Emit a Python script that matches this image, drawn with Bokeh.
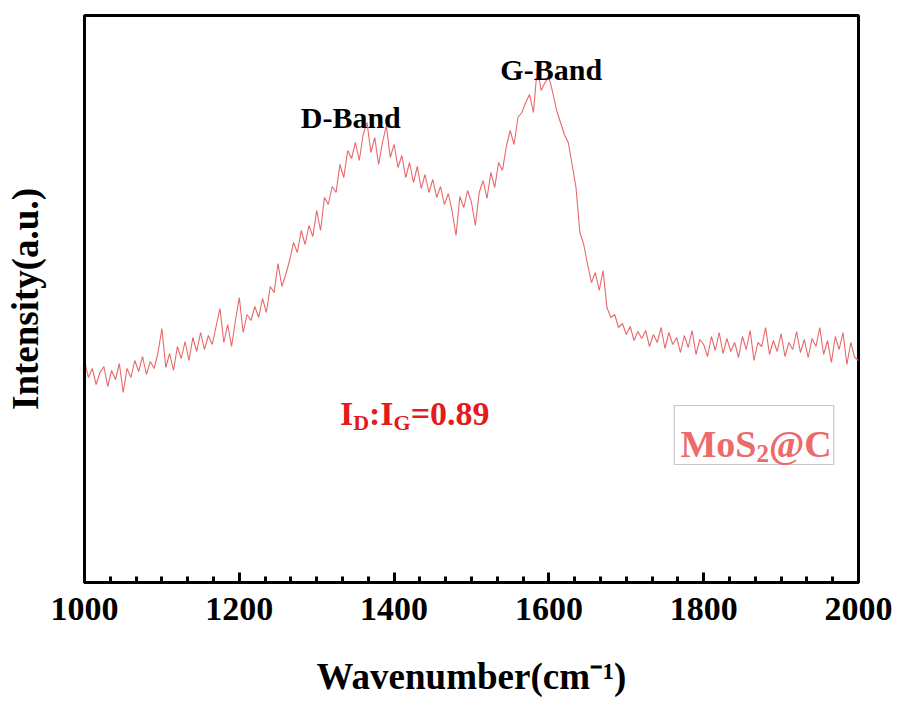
from bokeh.plotting import figure
from bokeh.models import Range1d, FixedTicker, Label, BoxAnnotation
from bokeh.embed import file_html
from bokeh.resources import INLINE

# ---------------- data ----------------
wavenumber = list(range(1000, 2001, 5))
intensity = [
    222, 205, 214, 198, 210,   # 1000
    216, 196, 212, 203, 219,   # 1025
    190, 214, 205, 222, 211,   # 1050
    226, 208, 221, 214, 230,   # 1075
    254, 215, 229, 212, 236,   # 1100
    224, 241, 222, 245, 231,   # 1125
    250, 233, 247, 238, 256,   # 1150
    274, 240, 258, 236, 262,   # 1175
    285, 250, 268, 262, 276,   # 1200
    265, 284, 270, 296, 290,   # 1225
    319, 296, 308, 322, 340,   # 1250
    330, 352, 338, 357, 346,   # 1275
    372, 352, 385, 378, 396,   # 1300
    390, 418, 405, 432, 424,   # 1325
    440, 422, 448, 460, 430,   # 1350
    445, 418, 440, 457, 425,   # 1375
    438, 415, 427, 405, 420,   # 1400
    400, 416, 394, 408, 390,   # 1425
    403, 385, 396, 378, 389,   # 1450
    371, 347, 386, 375, 392,   # 1475
    380, 357, 390, 402, 384,   # 1500
    410, 395, 420, 412, 436,   # 1525
    452, 438, 465, 470, 480,   # 1550
    488, 470, 515, 492, 500,   # 1575
    505, 490, 472, 460, 448,   # 1600
    440, 418, 395, 350, 338,   # 1625
    318, 300, 310, 292, 312,   # 1650
    275, 265, 268, 255, 259,   # 1675
    248, 256, 242, 251, 244,   # 1700
    252, 236, 248, 240, 255,   # 1725
    234, 250, 238, 245, 230,   # 1750
    247, 235, 252, 228, 243,   # 1775
    238, 226, 246, 232, 250,   # 1800
    229, 244, 231, 240, 225,   # 1825
    246, 233, 252, 222, 240,   # 1850
    236, 255, 228, 242, 231,   # 1875
    249, 226, 240, 233, 251,   # 1900
    230, 243, 225, 244, 236,   # 1925
    255, 228, 242, 220, 246,   # 1950
    233, 250, 218, 240, 225,   # 1975
    222,                       # 2000
]
x_ticks = [1000, 1200, 1400, 1600, 1800, 2000]
x_tick_labels = ["1000", "1200", "1400", "1600", "1800", "2000"]
band_names = ["D-Band", "G-Band"]
band_positions = [1344, 1603]
band_label_heights = [465, 513]

FONT = "Liberation Serif"

# Times/Liberation Serif Bold advance widths (em/1000)
_W = {"W": 1000, "a": 500, "v": 500, "e": 444, "n": 556, "u": 556, "m": 833,
      "b": 556, "r": 444, "(": 333, "c": 444, ")": 333, "-": 333, "1": 500,
      "I": 389, "D": 722, ":": 333, "G": 778, "=": 570, "0": 500, ".": 250,
      "8": 500, "9": 500, "M": 944, "o": 500, "S": 556, "2": 500, "@": 930,
      "C": 722}


def tw(s, size):
    return sum(_W.get(ch, 500) for ch in s) / 1000.0 * size


p = figure(width=893, height=702, output_backend="svg", toolbar_location=None,
           x_range=Range1d(1000, 2000), y_range=Range1d(0, 567),
           min_border_left=84, min_border_right=35, min_border_top=15,
           min_border_bottom=120)
p.background_fill_color = "white"
p.border_fill_color = "white"
p.grid.visible = False
p.outline_line_color = "black"
p.outline_line_width = 3

# x axis
minor = []
for a, b in zip(x_ticks[:-1], x_ticks[1:]):
    step = (b - a) / 6.0
    minor += [a + step * k for k in range(1, 6)]
p.xaxis.ticker = FixedTicker(ticks=x_ticks, minor_ticks=minor)
p.xaxis.major_label_overrides = {t: l for t, l in zip(x_ticks, x_tick_labels)}
p.xaxis.axis_line_width = 3
p.xaxis.axis_line_color = "black"
p.xaxis.major_tick_in = 10
p.xaxis.major_tick_out = 0
p.xaxis.major_tick_line_width = 3
p.xaxis.minor_tick_in = 6
p.xaxis.minor_tick_out = 0
p.xaxis.minor_tick_line_width = 3
p.xaxis.major_label_text_font = FONT
p.xaxis.major_label_text_font_style = "bold"
p.xaxis.major_label_text_font_size = "34px"
p.xaxis.major_label_text_color = "black"
p.xaxis.major_label_standoff = 15
p.xaxis.axis_label = "Wavenumber(cm\u207b\u00b9)"
p.xaxis.axis_label_text_font = FONT
p.xaxis.axis_label_text_font_style = "bold"
p.xaxis.axis_label_text_font_size = "37px"
p.xaxis.axis_label_text_color = "black"
p.xaxis.axis_label_standoff = 33

# y axis (no ticks)
p.yaxis.ticker = FixedTicker(ticks=[])
p.yaxis.axis_line_width = 3
p.yaxis.axis_line_color = "black"
p.yaxis.major_tick_line_color = None
p.yaxis.minor_tick_line_color = None
p.yaxis.major_label_text_font_size = "0px"
p.yaxis.axis_label = "Intensity(a.u.)"
p.yaxis.axis_label_text_font = FONT
p.yaxis.axis_label_text_font_style = "bold"
p.yaxis.axis_label_text_font_size = "37px"
p.yaxis.axis_label_text_color = "black"
p.yaxis.axis_label_standoff = 39

# spectrum
p.line(wavenumber, intensity, line_color="#E8686A", line_width=1.1)

# band labels
for name, xp, yp in zip(band_names, band_positions, band_label_heights):
    p.add_layout(Label(x=xp, y=yp, text=name, text_align="center",
                       text_baseline="alphabetic", text_font=FONT,
                       text_font_style="bold", text_font_size="30px",
                       text_color="black"))

# ID:IG ratio
F, S = 34, 22
parts = [("I", F, 0), ("D", S, -9), (":I", F, 0), ("G", S, -9), ("=0.89", F, 0)]
off = 0
for t, s, dy in parts:
    p.add_layout(Label(x=1330, y=169, x_offset=off, y_offset=dy, text=t,
                       text_align="left", text_baseline="alphabetic",
                       text_font=FONT, text_font_style="bold",
                       text_font_size=f"{s}px", text_color="#E41A1C"))
    off += tw(t, s)

# sample legend box
p.add_layout(BoxAnnotation(left=1762, right=1968, bottom=118, top=177,
                           fill_color="white", fill_alpha=1.0,
                           line_color="#444444", line_width=1.2))
F, S = 38, 25
parts = [("MoS", F, 0), ("2", S, -10), ("@C", F, 0)]
off = 0
for t, s, dy in parts:
    p.add_layout(Label(x=1770, y=139, x_offset=off, y_offset=dy, text=t,
                       text_align="left", text_baseline="alphabetic",
                       text_font=FONT, text_font_style="bold",
                       text_font_size=f"{s}px", text_color="#EC6A6A"))
    off += tw(t, s)

open("out.html", "w").write(file_html(p, INLINE))
